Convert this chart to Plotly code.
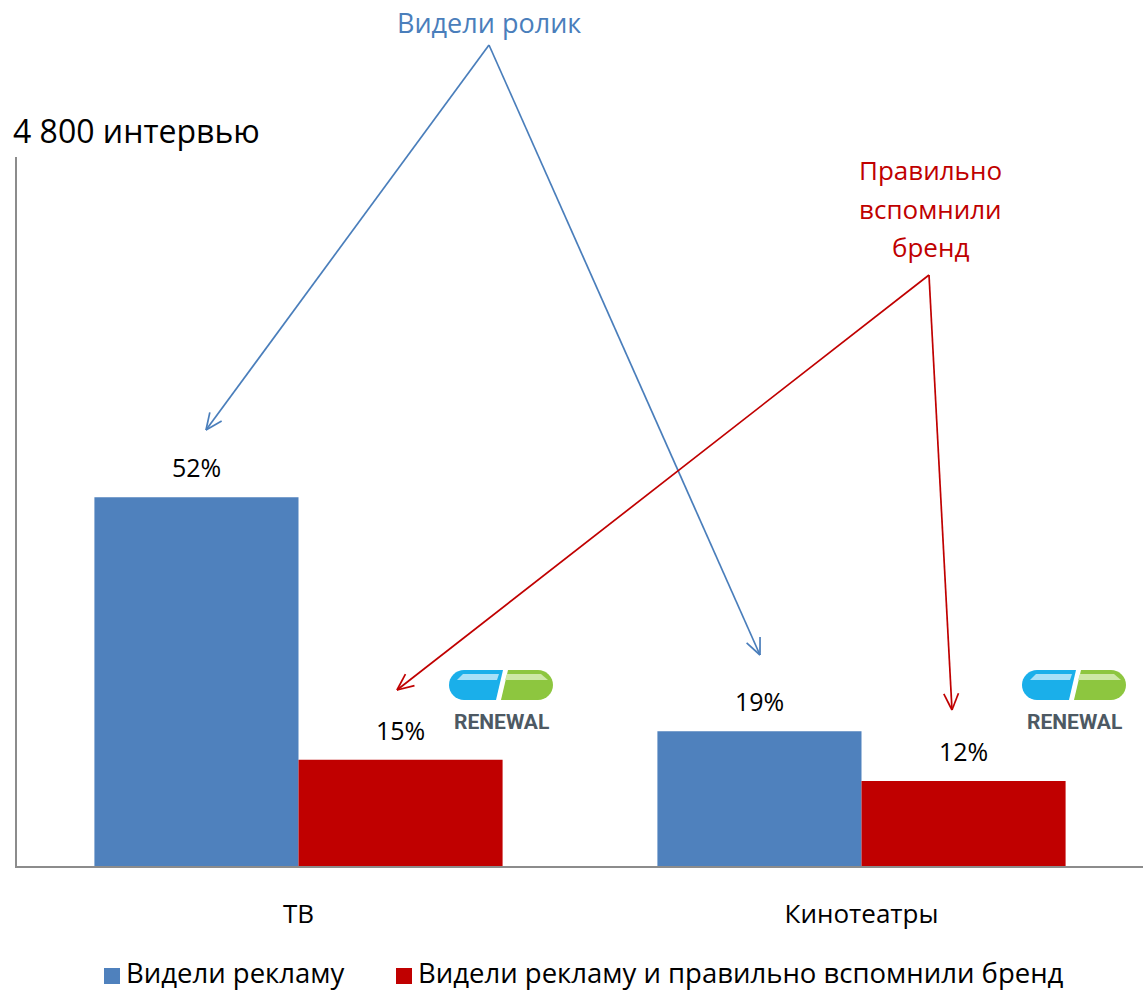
import math
import plotly.graph_objects as go

categories = ["ТВ", "Кинотеатры"]
series_names = ["Видели рекламу", "Видели рекламу и правильно вспомнили бренд"]
seen_ad = [52, 19]
seen_and_recalled = [15, 12]
colors = ["#4F81BD", "#C00000"]

FONT = "Open Sans"
W, H = 1146, 992
L, R, T, B = 17, 3, 157, 126
PW, PH = W - L - R, H - T - B


def px(x):  # page pixel -> paper
    return (x - L) / PW


def py(y):
    return (H - B - y) / PH


fig = go.Figure()
for name, vals, col in zip(series_names, [seen_ad, seen_and_recalled], colors):
    fig.add_trace(go.Bar(x=categories, y=vals, name=name, marker_color=col,
                         marker_line_width=0, showlegend=False))

shapes = []
annotations = []

# value labels
for vals, shift in [(seen_ad, -102), (seen_and_recalled, 102)]:
    for c, v in zip(categories, vals):
        annotations.append(dict(x=c, y=v, xref="x", yref="y", text=f"{v}%",
                                showarrow=False, xshift=shift, yshift=30,
                                xanchor="center", yanchor="middle",
                                font=dict(family=FONT, size=25, color="#000")))


def arrow(p0, p1, color):
    x0, y0 = p0
    x1, y1 = p1
    shapes.append(dict(type="line", xref="paper", yref="paper",
                       x0=px(x0), y0=py(y0), x1=px(x1), y1=py(y1),
                       line=dict(color=color, width=1.7)))
    ang = math.atan2(y0 - y1, x0 - x1)
    for d in (0.42, -0.42):
        hx = x1 + 18 * math.cos(ang + d)
        hy = y1 + 18 * math.sin(ang + d)
        shapes.append(dict(type="line", xref="paper", yref="paper",
                           x0=px(x1), y0=py(y1), x1=px(hx), y1=py(hy),
                           line=dict(color=color, width=1.7)))


BLUE_T = "#4A7EBB"
RED_T = "#C00000"
arrow((489, 45), (206, 430), BLUE_T)
arrow((489, 45), (760, 655), BLUE_T)
arrow((929, 275), (397, 690), RED_T)
arrow((929, 275), (952, 710), RED_T)


def text(x, y, s, size, color, xanchor="center"):
    annotations.append(dict(x=px(x), y=py(y), xref="paper", yref="paper",
                            text=s, showarrow=False, xanchor=xanchor,
                            yanchor="middle", borderpad=0,
                            font=dict(family=FONT, size=size, color=color)))


text(489, 22, "Видели ролик", 27, BLUE_T)
text(930, 170, "Правильно", 26, RED_T)
text(930, 209, "вспомнили", 26, RED_T)
text(930, 247, "бренд", 26, RED_T)
text(12, 130, "4 800 интервью", 32, "#000", xanchor="left")

# legend (drawn manually to match spacing)
legend_pos = [(104, 128), (396, 420)]
for (sx, tx), name, col in zip(legend_pos, series_names, colors):
    shapes.append(dict(type="rect", xref="paper", yref="paper",
                       x0=px(sx), x1=px(sx + 16), y0=py(984), y1=py(968),
                       fillcolor=col, line=dict(width=0)))
    text(tx - 3, 972, name, 27.5, "#000", xanchor="left")


def path(points):
    return "M " + " L ".join(f"{px(x):.5f},{py(y):.5f}" for x, y in points) + " Z"


def pill(x0):
    top, bot, r = 670, 700, 15
    cx = x0 + r
    blue = [(x0 + 54, top), (cx, top)]
    for i in range(17):
        a = -math.pi / 2 - i * math.pi / 16
        blue.append((cx + r * math.cos(a), 685 + r * math.sin(a)))
    blue += [(cx, bot), (x0 + 47, bot)]
    shapes.append(dict(type="path", xref="paper", yref="paper", path=path(blue),
                       fillcolor="#1AAFEA", line=dict(width=0)))
    hl = [(x0 + 50, 674), (x0 + 14, 674), (x0 + 8, 680), (x0 + 48, 680)]
    shapes.append(dict(type="path", xref="paper", yref="paper", path=path(hl),
                       fillcolor="#A8E0F7", line=dict(width=0)))
    ex = x0 + 104 - r
    green = [(x0 + 59, top), (ex, top)]
    for i in range(17):
        a = -math.pi / 2 + i * math.pi / 16
        green.append((ex + r * math.cos(a), 685 + r * math.sin(a)))
    green += [(ex, bot), (x0 + 52, bot)]
    shapes.append(dict(type="path", xref="paper", yref="paper", path=path(green),
                       fillcolor="#8DC63F", line=dict(width=0)))
    hl2 = [(x0 + 58, 674), (x0 + 92, 674), (x0 + 99, 680), (x0 + 56, 680)]
    shapes.append(dict(type="path", xref="paper", yref="paper", path=path(hl2),
                       fillcolor="#CDE8A6", line=dict(width=0)))
    annotations.append(dict(x=px(x0 + 52), y=py(722), xref="paper", yref="paper",
                            text="<b>RENEWAL</b>", showarrow=False,
                            xanchor="center", yanchor="middle",
                            font=dict(family="Roboto", size=21, color="#4D5963")))


pill(449)
pill(1022)

fig.update_layout(
    width=W, height=H,
    margin=dict(l=L, r=R, t=T, b=B),
    paper_bgcolor="white", plot_bgcolor="white",
    barmode="group", bargap=0.275, bargroupgap=0,
    font=dict(family=FONT, color="#000"),
    showlegend=False,
    shapes=shapes,
    annotations=annotations,
    xaxis=dict(showline=True, linecolor="#8C8C8C", linewidth=2, ticks="",
               tickfont=dict(family=FONT, size=26), ticklabelstandoff=24,
               showgrid=False, zeroline=False),
    yaxis=dict(range=[0, 100], showline=True, linecolor="#8C8C8C", linewidth=2,
               showticklabels=False, ticks="", showgrid=False, zeroline=False),
)

fig.write_html(
    "out.html",
    config={"displayModeBar": False},
    post_script="document.body.style.margin='0';"
                "document.body.style.overflow='hidden';",
)
